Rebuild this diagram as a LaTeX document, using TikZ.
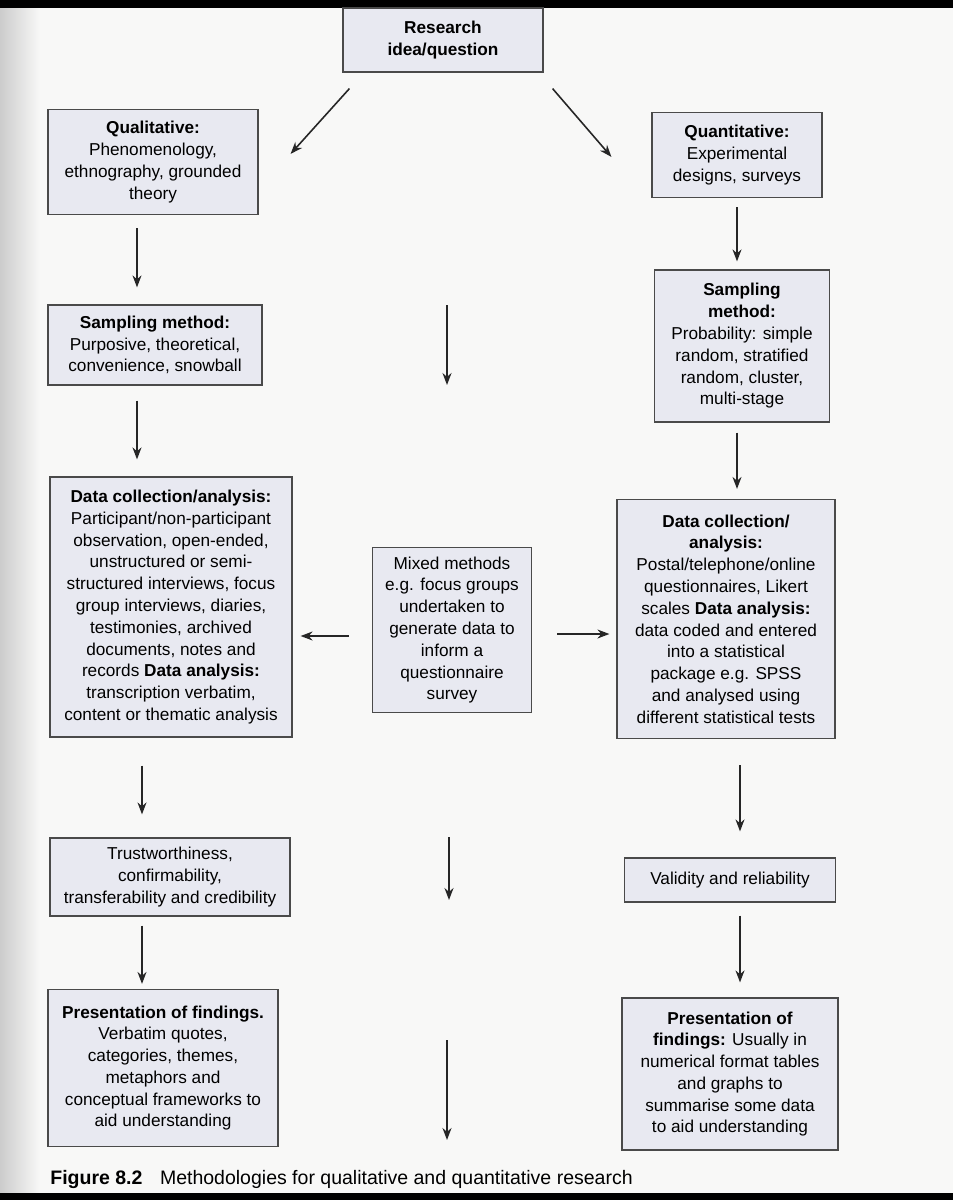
\documentclass[tikz,border=0pt]{standalone}
\usepackage{fontspec}
\setmainfont{Liberation Sans}
\usetikzlibrary{arrows.meta}
\definecolor{boxfill}{HTML}{E8E9F1}
\definecolor{boxline}{HTML}{4A4A4A}
\definecolor{pagebg}{HTML}{F8F8F7}
\tikzset{
  box/.style={draw=boxline, fill=boxfill, line width=0.7pt, align=center,
    inner sep=2pt, font=\fontsize{9.8}{12.4}\selectfont},
  arr/.style={-{Stealth[length=2.4mm,width=1.8mm]}, line width=0.9pt, draw=black!85},
}
\begin{document}
\begin{tikzpicture}[x=0.02cm, y=-0.02cm]
  % page
  \useasboundingbox (0,0) rectangle (953,1200);
  \fill[pagebg] (0,0) rectangle (953,1200);
  \shade[left color=gray!40, right color=pagebg] (0,8) rectangle (40,1192);
  \fill[black] (0,0) rectangle (953,8);
  \fill[black] (0,1193) rectangle (953,1200);

  % boxes
  \node[box, minimum width=4cm, minimum height=1.28cm] (res) at (443,40)
    {\bfseries Research\\\bfseries idea/question};
  \node[box, minimum width=4.2cm, minimum height=2.1cm] (qual) at (153,162)
    {\bfseries Qualitative:\\Phenomenology,\\ethnography, grounded\\theory};
  \node[box, minimum width=3.4cm, minimum height=1.7cm] (quant) at (737,155)
    {\bfseries Quantitative:\\Experimental\\designs, surveys};
  \node[box, minimum width=4.28cm, minimum height=1.6cm] (sampL) at (155,345)
    {\bfseries Sampling method:\\Purposive, theoretical,\\convenience, snowball};
  \node[box, minimum width=3.5cm, minimum height=3.04cm] (sampR) at (742,346)
    {\bfseries Sampling\\\bfseries method:\\Probability: simple\\random, stratified\\random, cluster,\\multi-stage};
  \node[box, minimum width=4.84cm, minimum height=5.2cm] (dataL) at (171,607)
    {\bfseries Data collection/analysis:\\Participant/non-participant\\observation, open-ended,\\unstructured or semi-\\structured interviews, focus\\group interviews, diaries,\\testimonies, archived\\documents, notes and\\records \textbf{Data analysis:}\\transcription verbatim,\\content or thematic analysis};
  \node[box, minimum width=3.18cm, minimum height=3.3cm] (mixed) at (452,630)
    {Mixed methods\\e.g. focus groups\\undertaken to\\generate data to\\inform a\\questionnaire\\survey};
  \node[box, minimum width=4.36cm, minimum height=4.78cm] (dataR) at (726,619)
    {\bfseries Data collection/\\\bfseries analysis:\\Postal/telephone/online\\questionnaires, Likert\\scales \textbf{Data analysis:}\\data coded and entered\\into a statistical\\package e.g. SPSS\\and analysed using\\different statistical tests};
  \node[box, minimum width=4.8cm, minimum height=1.56cm] (trust) at (170,877)
    {Trustworthiness,\\confirmability,\\transferability and credibility};
  \node[box, minimum width=4.22cm, minimum height=0.88cm] (valid) at (730,880)
    {Validity and reliability};
  \node[box, minimum width=4.6cm, minimum height=3.14cm] (presL) at (163,1068)
    {\bfseries Presentation of findings.\\Verbatim quotes,\\categories, themes,\\metaphors and\\conceptual frameworks to\\aid understanding};
  \node[box, minimum width=4.32cm, minimum height=3.04cm] (presR) at (730,1074)
    {\bfseries Presentation of\\\textbf{findings:} Usually in\\numerical format tables\\and graphs to\\summarise some data\\to aid understanding};

  % caption
  \node[anchor=west, inner sep=0pt, font=\fontsize{11.1}{13}\selectfont] (cap) at (50,1179)
    {\textbf{Figure 8.2}\hspace{0.9em}Methodologies for qualitative and quantitative research};

  % free arrows in the middle
  \coordinate (m1a) at (447,305);
  \coordinate (m1b) at (447,385);
  \coordinate (m2a) at (449,837);
  \coordinate (m2b) at (449,900);
  \coordinate (m3a) at (447,1040);
  \coordinate (m3b) at (447,1140);

  % connectors
  \draw[arr] ([shift={(7,16)}]res.south west) -- ([shift={(32,45)}]qual.north east);
  \draw[arr] ([shift={(9,16)}]res.south east) -- ([shift={(-40,45)}]quant.north west);
  \draw[arr] ([shift={(-16,13)}]qual.south) -- ([shift={(-18,-17)}]sampL.north);
  \draw[arr] ([shift={(0,9)}]quant.south) -- ([shift={(-5,-8)}]sampR.north);
  \draw[arr] ([shift={(-18,15)}]sampL.south) -- ([shift={(-34,-17)}]dataL.north);
  \draw[arr] ([shift={(-5,10)}]sampR.south) -- ([shift={(11,-10)}]dataR.north);
  \draw[arr] ([shift={(-23,6)}]mixed.west) -- ([shift={(8,29)}]dataL.east);
  \draw[arr] ([shift={(25,4)}]mixed.east) -- ([shift={(-7,15)}]dataR.west);
  \draw[arr] ([shift={(-29,28)}]dataL.south) -- ([shift={(-28,-23)}]trust.north);
  \draw[arr] ([shift={(14,26)}]dataR.south) -- ([shift={(10,-26)}]valid.north);
  \draw[arr] ([shift={(-28,9)}]trust.south) -- ([shift={(-21,-5)}]presL.north);
  \draw[arr] ([shift={(10,13)}]valid.south) -- ([shift={(10,-15)}]presR.north);
  \draw[arr] (m1a) -- (m1b);
  \draw[arr] (m2a) -- (m2b);
  \draw[arr] (m3a) -- (m3b);
\end{tikzpicture}
\end{document}
